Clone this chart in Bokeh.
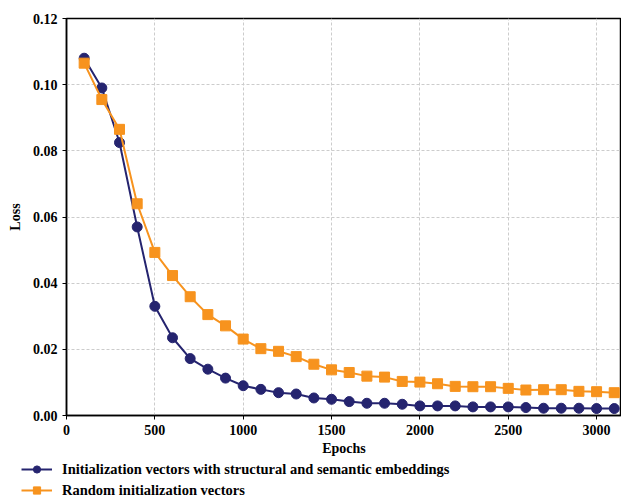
from bokeh.plotting import figure
from bokeh.layouts import column, row
from bokeh.models import Legend, LegendItem, Range1d, FixedTicker, CustomJSTickFormatter
from bokeh.embed import file_html
from bokeh.resources import INLINE

epochs = [100, 200, 300, 400, 500, 600, 700, 800, 900, 1000, 1100, 1200, 1300, 1400, 1500,
          1600, 1700, 1800, 1900, 2000, 2100, 2200, 2300, 2400, 2500, 2600, 2700, 2800, 2900, 3000, 3100]
loss_struct = [0.108, 0.099, 0.0825, 0.057, 0.033, 0.0235, 0.0172, 0.014, 0.0113, 0.009, 0.0079,
               0.0069, 0.0065, 0.0053, 0.0049, 0.0042, 0.0037, 0.0037, 0.0034, 0.0029, 0.0029,
               0.0029, 0.0026, 0.0026, 0.0026, 0.0024, 0.0022, 0.0022, 0.0022, 0.0021, 0.0021]
loss_random = [0.1065, 0.0955, 0.0865, 0.064, 0.0493, 0.0423, 0.0359, 0.0305, 0.0271, 0.0231, 0.0202,
               0.0194, 0.0178, 0.0155, 0.0138, 0.013, 0.0119, 0.0116, 0.0103, 0.0101, 0.0096,
               0.0088, 0.0087, 0.0087, 0.0082, 0.0077, 0.0078, 0.0078, 0.0073, 0.0072, 0.0069]
x_ticks = [0, 500, 1000, 1500, 2000, 2500, 3000]
y_ticks = [0.0, 0.02, 0.04, 0.06, 0.08, 0.10, 0.12]
label_struct = "Initialization vectors with structural and semantic embeddings"
label_random = "Random initialization vectors"

BLUE = "#25246f"
ORANGE = "#f7931e"
FONT = "Liberation Serif"

p = figure(width=621, height=460, output_backend="svg", toolbar_location=None,
           x_range=Range1d(0, 3141), y_range=Range1d(0, 0.12),
           min_border_left=66, min_border_top=18, min_border_bottom=45, min_border_right=0)

p.line(epochs, loss_struct, line_color=BLUE, line_width=2)
p.scatter(epochs, loss_struct, marker="circle", size=10, fill_color=BLUE, line_color=BLUE)
p.line(epochs, loss_random, line_color=ORANGE, line_width=2)
p.scatter(epochs, loss_random, marker="square", size=10, fill_color=ORANGE, line_color=ORANGE)

p.xaxis.ticker = FixedTicker(ticks=x_ticks)
p.yaxis.ticker = FixedTicker(ticks=y_ticks)
p.yaxis.formatter = CustomJSTickFormatter(code="return tick.toFixed(2);")
p.xaxis.formatter = CustomJSTickFormatter(code="return tick.toFixed(0);")

for ax in (p.xaxis[0], p.yaxis[0]):
    ax.major_label_text_font = FONT
    ax.major_label_text_font_style = "bold"
    ax.major_label_text_font_size = "14px"
    ax.major_label_text_color = "black"
    ax.axis_label_text_font = FONT
    ax.axis_label_text_font_style = "bold"
    ax.axis_label_text_font_size = "14px"
    ax.axis_label_text_color = "black"
    ax.axis_line_color = "black"
    ax.axis_line_width = 1.5
    ax.major_tick_line_color = "black"
    ax.major_tick_in = 0
    ax.major_tick_out = 4
    ax.minor_tick_line_color = None

p.xaxis.axis_label = "Epochs"
p.yaxis.axis_label = "Loss"
p.xaxis.axis_label_standoff = 3
p.yaxis.axis_label_standoff = 7

p.outline_line_color = "black"
p.outline_line_width = 1.5

p.xgrid.grid_line_color = "#cccccc"
p.ygrid.grid_line_color = "#cccccc"
p.xgrid.grid_line_dash = "3 2"
p.ygrid.grid_line_dash = "3 2"

# legend strip below the chart (same series and styles; its ranges keep the marks out of view)
lg = figure(width=621, height=42, output_backend="svg", toolbar_location=None,
            x_axis_type=None, y_axis_type=None,
            x_range=Range1d(-2000, -1000), y_range=Range1d(-2, -1),
            min_border_left=0, min_border_top=0, min_border_bottom=0, min_border_right=0)
lg.grid.visible = False
lg.outline_line_color = None
l1l = lg.line(epochs, loss_struct, line_color=BLUE, line_width=2)
l1m = lg.scatter(epochs, loss_struct, marker="circle", size=10, fill_color=BLUE, line_color=BLUE)
l2l = lg.line(epochs, loss_random, line_color=ORANGE, line_width=2)
l2m = lg.scatter(epochs, loss_random, marker="square", size=10, fill_color=ORANGE, line_color=ORANGE)

legend = Legend(items=[LegendItem(label=label_struct, renderers=[l1l, l1m]),
                       LegendItem(label=label_random, renderers=[l2l, l2m])],
                location=(21, 3), orientation="vertical",
                label_text_font=FONT, label_text_font_style="bold", label_text_font_size="14.5px",
                label_text_color="black", glyph_width=31, glyph_height=18, label_standoff=10,
                label_height=18, spacing=3, padding=0, margin=0,
                border_line_color=None, background_fill_alpha=0)
lg.add_layout(legend, "center")

layout = column(p, row(lg, spacing=0), spacing=0)
open("out.html", "w").write(file_html(layout, INLINE))
